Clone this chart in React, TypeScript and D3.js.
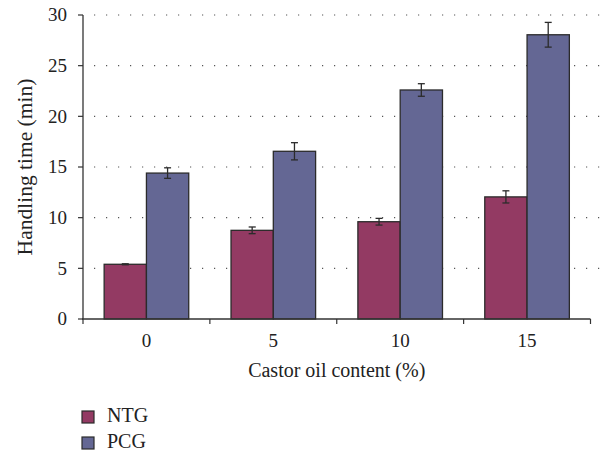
import React, { FC } from 'react';
import * as d3 from 'd3';

const categories: string[] = ['0', '5', '10', '15'];
const seriesNames: string[] = ['NTG', 'PCG'];
const ntgValues: number[] = [5.4, 8.75, 9.6, 12.05];
const ntgErrors: number[] = [0.05, 0.33, 0.33, 0.6];
const pcgValues: number[] = [14.4, 16.55, 22.6, 28.05];
const pcgErrors: number[] = [0.52, 0.85, 0.62, 1.22];
const yTicks: number[] = [0, 5, 10, 15, 20, 25, 30];

const colors: { [key: string]: string } = {
  NTG: '#933a63',
  PCG: '#646794',
};

type Margin = { left: number; top: number; right: number; bottom: number };

const font = 'Liberation Serif, Times New Roman, Times, DejaVu Serif, serif';
const txt = { fontFamily: font };

const App: FC = () => {
  const width = 610;
  const height = 453;
  const margin: Margin = { left: 83, top: 15, right: 19.5, bottom: 134 };

  const x0 = d3
    .scaleBand()
    .domain(categories)
    .range([margin.left, width - margin.right]);
  const band = x0.bandwidth();
  const x1 = d3
    .scaleBand()
    .domain(seriesNames)
    .range([band / 6, (band * 5) / 6]);
  const y = d3
    .scaleLinear()
    .domain([0, 30])
    .range([height - margin.bottom, margin.top]);

  const series = [
    { name: 'NTG', values: ntgValues, errors: ntgErrors },
    { name: 'PCG', values: pcgValues, errors: pcgErrors },
  ];

  const y0 = y(0);
  const xEnd = width - margin.right;

  return (
    <svg
      width={width}
      height={height}
      style={{ position: 'absolute', left: 0, top: 0, background: '#fff', fontFamily: font }}
    >
      {/* dotted grid */}
      {yTicks
        .filter((t) => t > 0)
        .map((t) => (
          <line
            key={'g' + t}
            x1={94}
            x2={601}
            y1={y(t)}
            y2={y(t)}
            stroke="#555"
            strokeWidth={1.2}
            strokeDasharray="1.2 10.8"
          />
        ))}

      {/* bars */}
      {series.map((s) =>
        categories.map((c, i) => {
          const bx = (x0(c) as number) + (x1(s.name) as number);
          const bw = x1.bandwidth();
          return (
            <rect
              key={s.name + c}
              x={bx}
              y={y(s.values[i])}
              width={bw}
              height={y0 - y(s.values[i])}
              fill={colors[s.name]}
              stroke="#2b2b2b"
              strokeWidth={1.3}
            />
          );
        })
      )}

      {/* error bars */}
      {series.map((s) =>
        categories.map((c, i) => {
          const cx = (x0(c) as number) + (x1(s.name) as number) + x1.bandwidth() / 2;
          const hi = y(s.values[i] + s.errors[i]);
          const lo = y(s.values[i] - s.errors[i]);
          return (
            <g key={'e' + s.name + c} stroke="#2b2b2b" strokeWidth={1.3}>
              <line x1={cx} x2={cx} y1={hi} y2={lo} />
              <line x1={cx - 3.5} x2={cx + 3.5} y1={hi} y2={hi} />
              <line x1={cx - 3.5} x2={cx + 3.5} y1={lo} y2={lo} />
            </g>
          );
        })
      )}

      {/* y axis */}
      <line x1={margin.left} x2={margin.left} y1={y(30)} y2={y0} stroke="#333" strokeWidth={1.3} />
      {yTicks.map((t) => (
        <g key={'y' + t}>
          <line x1={margin.left - 5} x2={margin.left} y1={y(t)} y2={y(t)} stroke="#333" strokeWidth={1.2} />
          <text
            x={margin.left - 16}
            y={y(t)}
            dy="0.34em"
            textAnchor="end"
            fontSize={19}
            fill="#222"
            style={txt}
          >
            {t}
          </text>
        </g>
      ))}

      {/* x axis */}
      <line x1={margin.left - 1} x2={xEnd} y1={y0} y2={y0} stroke="#333" strokeWidth={1.3} />
      {[...categories.map((c) => x0(c) as number), xEnd].map((tx, i) => (
        <line key={'xt' + i} x1={tx} x2={tx} y1={y0} y2={y0 + 5} stroke="#333" strokeWidth={1.2} />
      ))}
      {categories.map((c) => (
        <text
          key={'xl' + c}
          x={(x0(c) as number) + band / 2}
          y={y0 + 28}
          textAnchor="middle"
          fontSize={19}
          fill="#222"
          style={txt}
        >
          {c}
        </text>
      ))}

      {/* axis titles */}
      <text
        x={(margin.left + xEnd) / 2}
        y={y0 + 58}
        textAnchor="middle"
        fontSize={20}
        fill="#222"
        style={txt}
      >
        Castor oil content (%)
      </text>
      <text
        transform={`translate(32, ${(y(30) + y0) / 2}) rotate(-90)`}
        textAnchor="middle"
        fontSize={21.5}
        fill="#222"
        style={txt}
      >
        Handling time (min)
      </text>

      {/* legend */}
      {seriesNames.map((n, i) => (
        <g key={'lg' + n} transform={`translate(82, ${411 + i * 26})`}>
          <rect x={0} y={0} width={12} height={12} fill={colors[n]} stroke="#2b2b2b" strokeWidth={1.2} />
          <text x={25} y={11} fontSize={20} fill="#222" style={txt}>
            {n}
          </text>
        </g>
      ))}
    </svg>
  );
};

export default App;
